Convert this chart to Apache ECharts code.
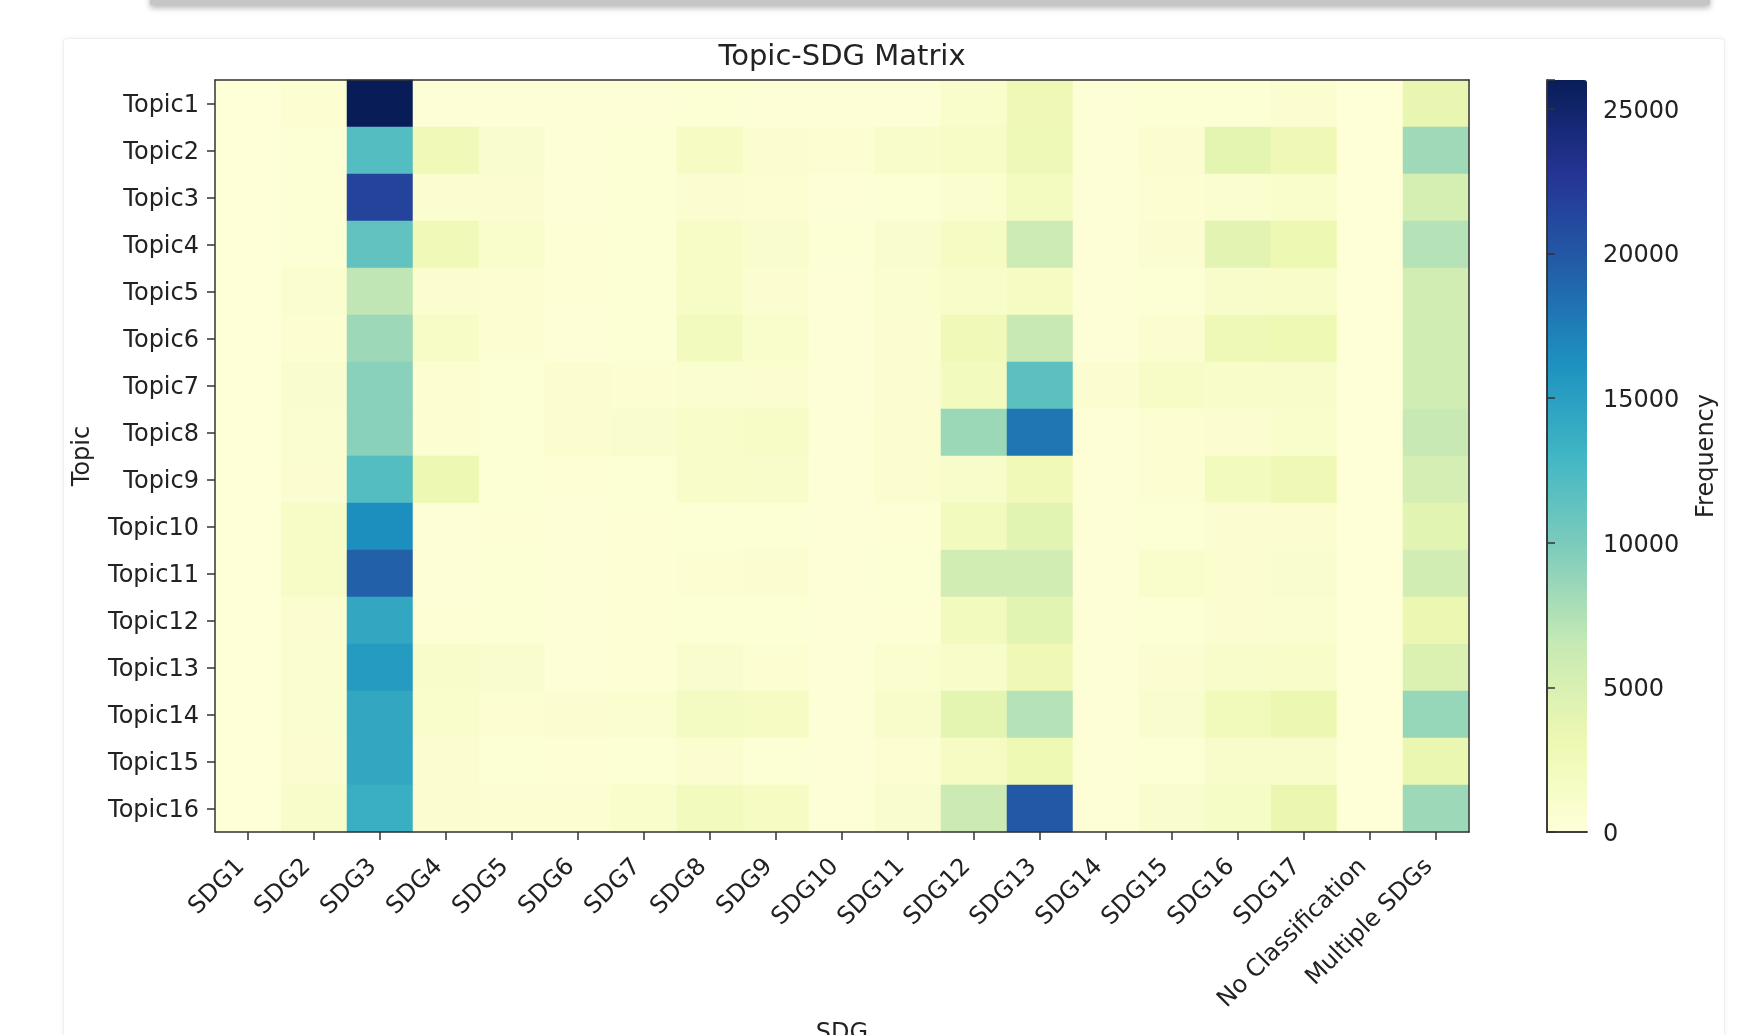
<!DOCTYPE html>
<html>
<head>
<meta charset="utf-8">
<script src="https://cdn.jsdelivr.net/npm/echarts@6/dist/echarts.min.js"></script>
<style>
  html, body { margin: 0; padding: 0; width: 1749px; height: 1035px; overflow: hidden; background: #ffffff; }
  .card-above {
    position: absolute; left: 150px; top: -30px; width: 1560px; height: 35px;
    background: #c6c6c6; box-shadow: 0 3px 6px rgba(0,0,0,0.28);
  }
  .card {
    position: absolute; left: 63px; top: 38px; width: 1660px; height: 1100px;
    background: #ffffff; border: 1px solid #efefef; border-radius: 4px;
    box-shadow: 0 0 5px rgba(0,0,0,0.06);
  }
  #chart { position: absolute; left: 0; top: 0; width: 1749px; height: 1035px; }
</style>
</head>
<body>
<div class="card-above"></div>
<div class="card"></div>
<div id="chart"></div>
<script>
// Column categories (SDG classes) and row categories (topics)
const sdgLabels = ['SDG1', 'SDG2', 'SDG3', 'SDG4', 'SDG5', 'SDG6', 'SDG7', 'SDG8', 'SDG9',
  'SDG10', 'SDG11', 'SDG12', 'SDG13', 'SDG14', 'SDG15', 'SDG16', 'SDG17',
  'No Classification', 'Multiple SDGs'];
const topicLabels = ['Topic1', 'Topic2', 'Topic3', 'Topic4', 'Topic5', 'Topic6', 'Topic7', 'Topic8',
  'Topic9', 'Topic10', 'Topic11', 'Topic12', 'Topic13', 'Topic14', 'Topic15', 'Topic16'];

// Frequencies per topic, one value per SDG column
const topic1  = [150, 600, 26000, 300, 300, 250, 300, 500, 300, 250, 300, 1100, 2900, 300, 500, 500, 700, 150, 3600];
const topic2  = [200, 500, 12000, 2700, 1000, 300, 500, 1800, 800, 600, 1200, 1500, 2800, 300, 800, 4000, 2900, 150, 8300];
const topic3  = [200, 500, 21500, 700, 700, 300, 500, 700, 600, 300, 500, 900, 2000, 300, 600, 900, 1100, 150, 5300];
const topic4  = [200, 500, 11300, 2700, 1100, 400, 500, 1500, 1000, 500, 1000, 1700, 6000, 300, 700, 4100, 3200, 150, 7300];
const topic5  = [200, 900, 6800, 800, 600, 400, 500, 1500, 700, 300, 900, 1300, 1800, 300, 500, 1200, 1400, 150, 5600];
const topic6  = [200, 600, 8400, 1500, 600, 300, 500, 2200, 1100, 300, 700, 2600, 6400, 300, 800, 2800, 3000, 150, 5700];
const topic7  = [200, 1000, 9300, 600, 500, 700, 600, 900, 800, 300, 700, 2200, 11600, 700, 1500, 1300, 1200, 150, 5700];
const topic8  = [200, 900, 9300, 600, 500, 800, 1000, 1300, 1500, 300, 800, 8500, 18000, 300, 600, 700, 1100, 150, 6400];
const topic9  = [200, 700, 12000, 3200, 500, 400, 500, 1300, 1200, 300, 800, 1200, 2700, 300, 600, 2200, 2900, 150, 5400];
const topic10 = [150, 1500, 16400, 300, 400, 300, 400, 500, 500, 300, 400, 2200, 4200, 300, 500, 700, 800, 150, 4200];
const topic11 = [150, 1500, 19400, 300, 500, 300, 400, 600, 700, 300, 500, 5600, 5600, 300, 1100, 800, 1000, 150, 5600];
const topic12 = [150, 800, 14300, 400, 500, 300, 400, 500, 500, 300, 400, 2200, 4200, 300, 500, 700, 900, 150, 3300];
const topic13 = [150, 900, 15400, 1200, 1000, 300, 400, 1000, 600, 300, 900, 1400, 2900, 300, 700, 1200, 1300, 150, 4800];
const topic14 = [150, 900, 14300, 1100, 600, 700, 900, 1900, 1800, 300, 1200, 4000, 7300, 300, 1000, 2400, 3300, 150, 8700];
const topic15 = [150, 800, 14300, 700, 500, 400, 500, 800, 500, 300, 600, 1800, 3000, 300, 500, 1200, 1200, 150, 3500];
const topic16 = [150, 1200, 13600, 800, 600, 600, 1100, 2300, 1800, 300, 1000, 6200, 20000, 300, 1000, 1600, 3400, 150, 8400];

// Colour bar range and ticks
const freqMax = 26000;
const freqTicks = [0, 5000, 10000, 15000, 20000, 25000];

// YlGnBu colour ramp
const ylGnBu = ['#ffffd9', '#edf8b1', '#c7e9b4', '#7fcdbb', '#41b6c4', '#1d91c0', '#225ea8', '#253494', '#081d58'];

const rows = [topic1, topic2, topic3, topic4, topic5, topic6, topic7, topic8,
  topic9, topic10, topic11, topic12, topic13, topic14, topic15, topic16];
const cells = [];
rows.forEach((row, yi) => row.forEach((v, xi) => cells.push([xi, yi, v])));

const FONT = 'DejaVu Sans';
const INK = '#222222';
const LINE = '#333333';
const TICK_FS = 24;

// Plot box and colour bar box
const plot = { left: 215, top: 80, width: 1254, height: 752 };
const cbar = { left: 1547, top: 80, width: 40, height: 752 };

const chart = echarts.init(document.getElementById('chart'), null, { renderer: 'canvas' });

const frameAxis = { show: true, axisLine: { show: true, lineStyle: { color: LINE, width: 1.5 } },
  axisTick: { show: false }, axisLabel: { show: false }, splitLine: { show: false } };

// Side labels sit a touch below their tick, like centre-baseline text
const sideLabel = { verticalAlign: 'top', lineHeight: 5, fontFamily: FONT, fontSize: TICK_FS, color: INK };

chart.setOption({
  animation: false,
  title: {
    text: 'Topic-SDG Matrix', left: plot.left + plot.width / 2, top: 43, padding: 0,
    textAlign: 'center',
    textStyle: { fontFamily: FONT, fontSize: 29, fontWeight: 'normal', color: INK }
  },
  grid: [
    Object.assign({ containLabel: false, outerBoundsMode: 'none' }, plot),
    Object.assign({ containLabel: false, outerBoundsMode: 'none' }, cbar)
  ],
  xAxis: [
    {
      type: 'category', data: sdgLabels, gridIndex: 0, position: 'bottom', z: 10,
      name: 'SDG', nameLocation: 'middle', nameGap: 190,
      nameTextStyle: { fontFamily: FONT, fontSize: TICK_FS, color: INK },
      axisLine: { show: true, lineStyle: { color: LINE, width: 1.5 } },
      axisTick: { show: true, alignWithLabel: true, length: 8, lineStyle: { color: LINE, width: 1.5 } },
      axisLabel: { rotate: 45, interval: 0, margin: 24, padding: [0, 10, 0, 0],
        fontFamily: FONT, fontSize: TICK_FS, color: INK },
      splitLine: { show: false }
    },
    Object.assign({ type: 'category', data: sdgLabels, gridIndex: 0, position: 'top', z: 10 }, frameAxis),
    Object.assign({ type: 'value', gridIndex: 1, position: 'bottom', min: 0, max: 1, z: 10 }, frameAxis),
    Object.assign({ type: 'value', gridIndex: 1, position: 'top', min: 0, max: 1, z: 10 }, frameAxis)
  ],
  yAxis: [
    {
      type: 'category', data: topicLabels, gridIndex: 0, inverse: true, position: 'left', z: 10,
      name: 'Topic', nameLocation: 'middle', nameGap: 120,
      nameTextStyle: { fontFamily: FONT, fontSize: TICK_FS, color: INK },
      axisLine: { show: true, lineStyle: { color: LINE, width: 1.5 } },
      axisTick: { show: true, alignWithLabel: true, length: 8, lineStyle: { color: LINE, width: 1.5 } },
      axisLabel: Object.assign({ interval: 0, margin: 16 }, sideLabel),
      splitLine: { show: false }
    },
    Object.assign({ type: 'category', data: topicLabels, gridIndex: 0, inverse: true, position: 'right', z: 10 }, frameAxis),
    Object.assign({ type: 'value', gridIndex: 1, position: 'left', min: 0, max: freqMax, z: 10 }, frameAxis),
    {
      type: 'value', gridIndex: 1, position: 'right', min: 0, max: freqMax, interval: 5000, z: 10,
      name: 'Frequency', nameLocation: 'middle', nameGap: 108, nameRotate: 90,
      nameTextStyle: { fontFamily: FONT, fontSize: TICK_FS, color: INK },
      axisLine: { show: true, lineStyle: { color: LINE, width: 1.5 } },
      axisTick: { show: true, length: 8, lineStyle: { color: LINE, width: 1.5 } },
      axisLabel: Object.assign({
        margin: 16,
        formatter: v => (freqTicks.indexOf(v) >= 0 ? String(v) : '')
      }, sideLabel),
      splitLine: { show: false }
    }
  ],
  visualMap: {
    type: 'continuous', min: 0, max: freqMax, seriesIndex: 0,
    calculable: false, hoverLink: false, orient: 'vertical',
    left: cbar.left, top: cbar.top, itemWidth: cbar.width, itemHeight: cbar.height,
    padding: 0, text: null, showLabel: false,
    inRange: { color: ylGnBu }
  },
  series: [{
    type: 'heatmap', xAxisIndex: 0, yAxisIndex: 0, data: cells,
    itemStyle: { borderWidth: 0 },
    emphasis: { disabled: true },
    progressive: 0
  }]
});
</script>
</body>
</html>
